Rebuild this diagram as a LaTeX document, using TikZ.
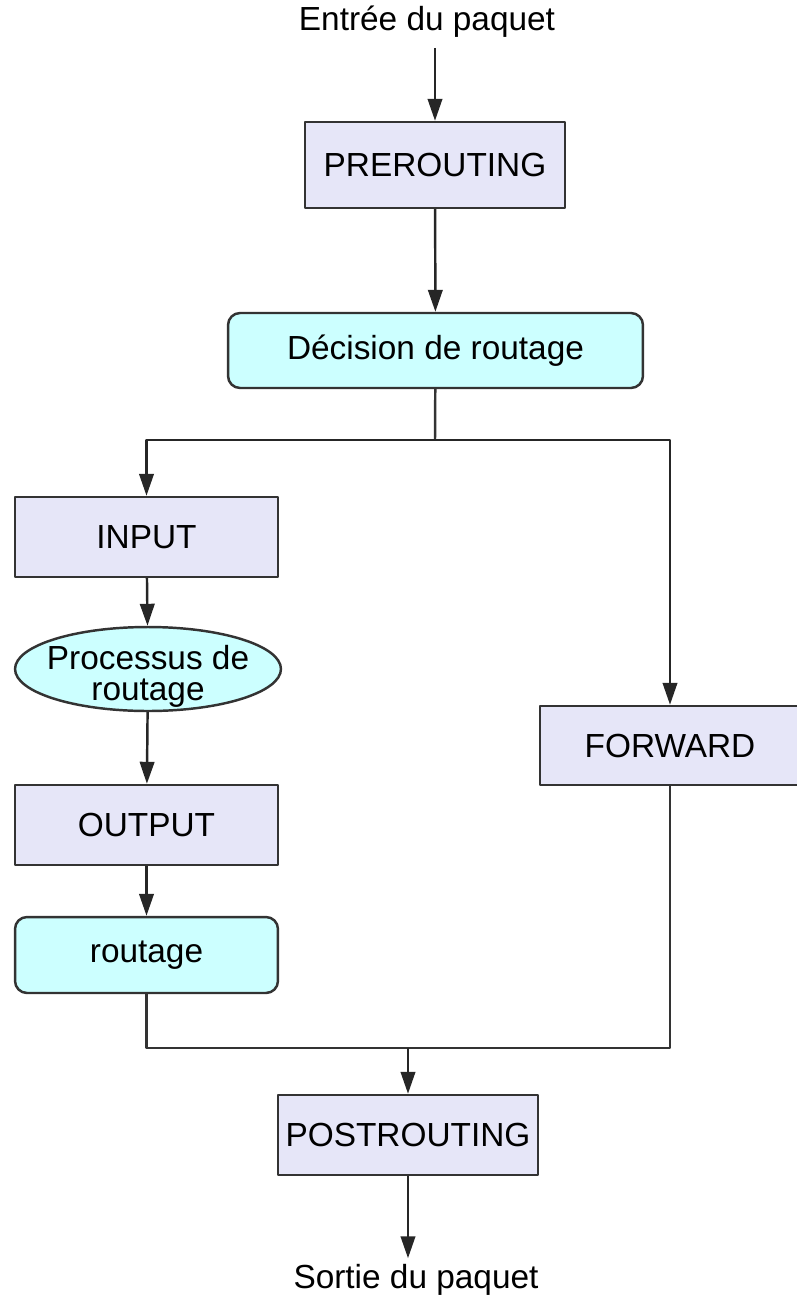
\documentclass[tikz,border=0pt]{standalone}
\usepackage{fontspec}
\setmainfont{Liberation Sans}
\usetikzlibrary{arrows.meta,shapes.geometric}
\definecolor{chainfill}{HTML}{E6E6F8}
\definecolor{routefill}{HTML}{CCFFFF}
\definecolor{edge}{HTML}{333333}
\tikzset{
  chain/.style={draw=edge, fill=chainfill, line width=1.4pt, minimum width=5.2cm, minimum height=1.6cm},
  route/.style={draw=edge, fill=routefill, line width=1.4pt, rounded corners=0.24cm, minimum height=1.5cm},
  arr/.style={-{Triangle[length=0.44cm,width=0.29cm]}, line width=1.4pt, draw=black!85},
  wire/.style={line width=1.4pt, draw=edge},
}
\begin{document}
\begin{tikzpicture}[x=0.02cm, y=-0.02cm, font=\fontsize{19}{22}\selectfont, line join=round]
		\useasboundingbox (0,0) rectangle (796,1305);
		\node (entree) at (427,22) {Entrée du paquet};
		\node[chain, minimum height=1.72cm] (pre) at (435,165) {PREROUTING};
		\node[route, minimum width=8.3cm] (dec) at (435.5,350.5) {Décision de routage};
		\coordinate (split) at (435,440);
		\node[chain, minimum width=5.26cm] (input) at (146.5,537) {INPUT};
		\node[ellipse, draw=edge, fill=routefill, line width=1.4pt, inner sep=0pt, minimum width=5.32cm, minimum height=1.68cm,
		  label={[align=center, yshift=-0.15cm, font=\fontsize{19}{18}\selectfont]center:Processus de\\routage}] (proc) at (148,669) {};
		\node[chain, minimum width=5.26cm] (output) at (146.5,825) {OUTPUT};
		\node[route, minimum width=5.26cm, minimum height=1.52cm] (rout) at (146.5,955) {routage};
		\node[chain, minimum height=1.58cm] (fwd) at (670,745.5) {FORWARD};
		\coordinate (merge) at (408,1048);
		\node[chain] (post) at (408,1135) {POSTROUTING};
		\node (sortie) at (416,1280) {Sortie du paquet};
		% connectors
		\draw[arr] (pre.north |- entree.south) ++(0,4) -- (pre.north);
		\draw[arr] (pre) -- (dec);
		\draw[wire] (dec) -- (split);
		\draw[arr] (split) -| (input.north);
		\draw[arr] (split) -| (fwd.north);
		\draw[arr] (input) -- (proc);
		\draw[arr] (proc) -- (output);
		\draw[arr] (output) -- (rout);
		\draw[wire] (rout.south) |- (merge);
		\draw[wire] (fwd.south) |- (merge);
		\draw[arr] (merge) -- (post);
		\draw[arr] (post.south) -- (post.south |- sortie.north);
	\end{tikzpicture}
\end{document}
